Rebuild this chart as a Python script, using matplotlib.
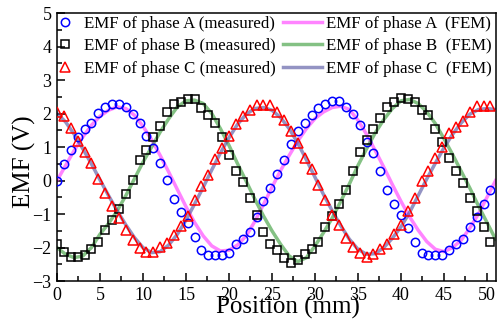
import numpy as np
import matplotlib
matplotlib.use("Agg")
import matplotlib.pyplot as plt
from matplotlib.ticker import MultipleLocator

plt.rcParams["font.family"] = ["Liberation Serif", "DejaVu Serif"]

# measured points, one every 0.8 mm
pos_meas = np.round(np.arange(64) * 0.8, 1)
emf_a_meas = [0.00, 0.49, 0.90, 1.31, 1.55, 1.73, 2.03, 2.20,
              2.27, 2.27, 2.21, 1.98, 1.73, 1.33, 0.98, 0.51,
              0.03, -0.54, -0.95, -1.27, -1.67, -2.07, -2.22, -2.22,
              -2.22, -2.17, -1.89, -1.74, -1.52, -1.10, -0.62, -0.22,
              0.20, 0.61, 1.08, 1.48, 1.73, 1.96, 2.18, 2.28,
              2.36, 2.36, 2.21, 1.98, 1.65, 1.15, 0.83, 0.28,
              -0.29, -0.70, -1.02, -1.42, -1.82, -2.15, -2.22, -2.22,
              -2.22, -2.07, -1.89, -1.74, -1.39, -1.10, -0.69, -0.29]
emf_b_meas = [-1.89, -2.14, -2.27, -2.27, -2.22, -2.05, -1.82, -1.47,
              -1.17, -0.85, -0.39, 0.03, 0.60, 0.91, 1.31, 1.63,
              2.05, 2.28, 2.35, 2.43, 2.43, 2.18, 1.95, 1.73,
              1.30, 0.75, 0.28, -0.05, -0.52, -1.02, -1.52, -1.89,
              -2.07, -2.30, -2.45, -2.37, -2.20, -2.05, -1.82, -1.39,
              -1.05, -0.70, -0.27, 0.28, 0.85, 1.20, 1.55, 1.86,
              2.21, 2.35, 2.45, 2.43, 2.35, 2.11, 1.95, 1.55,
              1.15, 0.66, 0.28, -0.07, -0.52, -0.92, -1.39, -1.82]
emf_c_meas = [2.05, 1.93, 1.58, 1.18, 0.85, 0.51, 0.05, -0.37,
              -0.75, -1.12, -1.47, -1.77, -2.02, -2.12, -2.12, -1.97,
              -1.85, -1.62, -1.37, -1.05, -0.57, -0.17, 0.18, 0.63,
              0.98, 1.33, 1.68, 1.93, 2.11, 2.25, 2.25, 2.25,
              2.05, 1.81, 1.48, 1.13, 0.68, 0.36, -0.12, -0.59,
              -1.02, -1.32, -1.72, -1.97, -2.17, -2.27, -2.19, -2.05,
              -1.89, -1.59, -1.32, -0.92, -0.52, -0.02, 0.28, 0.68,
              1.01, 1.41, 1.61, 1.78, 2.05, 2.23, 2.23, 2.23]

# FEM results, one every 1 mm
pos_fem = np.arange(52)
emf_a_fem = [0.00, 0.45, 0.90, 1.30, 1.65, 1.92, 2.10, 2.20, 2.15, 1.95,
             1.62, 1.22, 0.75, 0.25, -0.27, -0.78, -1.25, -1.65, -1.95, -2.10,
             -2.08, -1.92, -1.65, -1.22, -0.72, -0.20, 0.30, 0.75, 1.18, 1.55,
             1.85, 2.05, 2.18, 2.22, 2.12, 1.80, 1.38, 0.90, 0.40, -0.12,
             -0.62, -1.08, -1.48, -1.82, -2.05, -2.12, -2.00, -1.78, -1.42, -1.00,
             -0.50, 0.00]
emf_b_fem = [-2.00, -2.20, -2.30, -2.25, -2.00, -1.60, -1.28, -0.90, -0.45, 0.05,
             0.55, 1.00, 1.45, 1.85, 2.20, 2.38, 2.40, 2.30, 2.00, 1.55,
             1.05, 0.50, -0.02, -0.55, -1.05, -1.50, -1.90, -2.25, -2.42, -2.30,
             -1.95, -1.55, -1.12, -0.62, -0.10, 0.45, 0.95, 1.42, 1.82, 2.15,
             2.38, 2.42, 2.30, 2.05, 1.70, 1.25, 0.78, 0.28, -0.22, -0.75,
             -1.25, -1.75]
emf_c_fem = [2.00, 1.75, 1.38, 0.95, 0.50, 0.02, -0.45, -0.90, -1.32, -1.70,
             -2.00, -2.15, -2.12, -1.92, -1.60, -1.18, -0.70, -0.20, 0.32, 0.82,
             1.28, 1.68, 1.98, 2.15, 2.18, 2.10, 1.88, 1.55, 1.12, 0.62,
             0.10, -0.42, -0.90, -1.35, -1.75, -2.05, -2.20, -2.18, -2.00, -1.72,
             -1.38, -0.95, -0.45, 0.05, 0.52, 0.98, 1.38, 1.72, 1.98, 2.12,
             2.15, 2.12]

fig = plt.figure(figsize=(5, 3.25), dpi=100)
ax = fig.add_axes([0.114, 0.135, 0.878, 0.825])

fa, = ax.plot(pos_fem, emf_a_fem, color='#ff33ff', lw=2.5, alpha=0.6, zorder=2)
fb, = ax.plot(pos_fem, emf_b_fem, color='#339933', lw=2.5, alpha=0.6, zorder=2)
fc, = ax.plot(pos_fem, emf_c_fem, color='#4b4b9b', lw=2.5, alpha=0.6, zorder=2)

ma, = ax.plot(pos_meas, emf_a_meas, 'o', ms=6, mfc='none', mec='#0000ff', mew=1.1, zorder=3)
mb, = ax.plot(pos_meas, emf_b_meas, 's', ms=5.5, mfc='none', mec='k', mew=1.1, zorder=3)
mc, = ax.plot(pos_meas, emf_c_meas, '^', ms=6.5, mfc='none', mec='#ff0000', mew=1.1, zorder=3)

ax.set_xlim(0, 51.05)
ax.set_ylim(-3, 5)
ax.xaxis.set_major_locator(MultipleLocator(5))
ax.xaxis.set_minor_locator(MultipleLocator(2.5))
ax.yaxis.set_major_locator(MultipleLocator(1))
ax.yaxis.set_minor_locator(MultipleLocator(0.5))
ax.tick_params(which='both', direction='in', top=False, right=False, labelsize=13, width=1.1)
ax.tick_params(which='major', length=6, pad=4)
ax.tick_params(which='minor', length=3.5)
for s in ax.spines.values():
    s.set_linewidth(1.1)

ax.set_xlabel('Position (mm)', fontsize=18)
ax.xaxis.set_label_coords(0.526, -0.055)
ax.set_ylabel('EMF (V)', fontsize=18)
ax.yaxis.set_label_coords(-0.047, 0.444)

leg1 = ax.legend([ma, mb, mc],
                 ['EMF of phase A (measured)', 'EMF of phase B (measured)', 'EMF of phase C (measured)'],
                 loc='upper left', bbox_to_anchor=(0.0, 0.99), frameon=False, fontsize=12.2,
                 handlelength=1.0, handletextpad=0.6, borderpad=0, borderaxespad=0, labelspacing=0.38)
ax.add_artist(leg1)
ax.legend([fa, fb, fc],
          ['EMF of phase A  (FEM)', 'EMF of phase B  (FEM)', 'EMF of phase C  (FEM)'],
          loc='upper left', bbox_to_anchor=(0.515, 0.99), frameon=False, fontsize=12.2,
          handlelength=2.3, handletextpad=0.25, borderpad=0, borderaxespad=0, labelspacing=0.38)

fig.savefig('out.png', dpi=100)
